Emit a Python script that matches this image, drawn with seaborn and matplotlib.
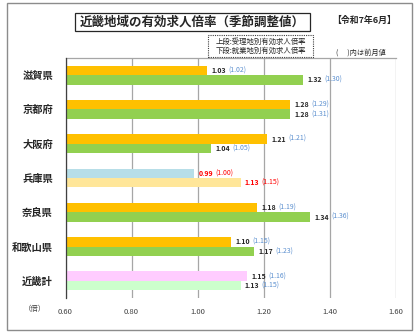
import matplotlib
matplotlib.use("Agg")
import matplotlib.pyplot as plt
from matplotlib.patches import Rectangle
from matplotlib.ticker import FixedLocator
import seaborn as sns
import pandas as pd
import numpy as np

# ---- data ----
prefs = ['滋賀県', '京都府', '大阪府', '兵庫県', '奈良県', '和歌山県', '近畿計']
upper = [1.03, 1.28, 1.21, 0.99, 1.18, 1.10, 1.15]        # 受理地別
upper_prev = [1.02, 1.29, 1.21, 1.00, 1.19, 1.15, 1.16]
lower = [1.32, 1.28, 1.04, 1.13, 1.34, 1.17, 1.13]        # 就業地別
lower_prev = [1.30, 1.31, 1.05, 1.15, 1.36, 1.23, 1.15]
series = ['受理地別', '就業地別']
xticks = [0.60, 0.80, 1.00, 1.20, 1.40, 1.60]

upper_colors = ['#FFC000', '#FFC000', '#FFC000', '#B7DEE8', '#FFC000', '#FFC000', '#FFCCFF']
lower_colors = ['#92D050', '#92D050', '#92D050', '#FFE699', '#92D050', '#92D050', '#CCFFCC']
text_colors = ['#262626', '#262626', '#262626', '#FF0000', '#262626', '#262626', '#262626']
prev_colors = ['#5B8FCF', '#5B8FCF', '#5B8FCF', '#FF0000', '#5B8FCF', '#5B8FCF', '#5B8FCF']

df = pd.DataFrame({
    'pref': prefs * 2,
    'value': upper + lower,
    'series': [series[0]] * len(prefs) + [series[1]] * len(prefs),
})

sns.set_style('white')
plt.rcParams['font.family'] = ['Noto Sans CJK JP', 'DejaVu Sans']

W, H = 420, 335
fig = plt.figure(figsize=(W / 100, H / 100), dpi=100)
ax = fig.add_axes([65.5 / W, 1 - 298 / H, (395.7 - 65.5) / W, (298 - 58) / H])

sns.barplot(data=df, x='value', y='pref', hue='series', orient='h', width=0.55,
            saturation=1, legend=False, ax=ax, linewidth=0, zorder=3)

# recolor bars per category
for cont, cols in zip(ax.containers, [upper_colors, lower_colors]):
    for patch, c in zip(cont.patches, cols):
        patch.set_facecolor(c)
        patch.set_edgecolor('none')

ax.set_xlim(xticks[0], xticks[-1])
ax.set_xticks(xticks)
ax.set_xticklabels([f'{t:.2f}' for t in xticks], fontsize=5.5, color='#404040')
ax.set_xlabel('')
ax.set_ylabel('')
ax.tick_params(axis='x', length=0, pad=7)
ax.tick_params(axis='y', which='major', length=0, pad=9)
for lab in ax.get_yticklabels():
    lab.set_fontsize(7.4)
    lab.set_fontweight('bold')
    lab.set_color('#262626')
ax.yaxis.set_minor_locator(FixedLocator(np.arange(-0.5, len(prefs), 1.0)))
ax.tick_params(axis='y', which='minor', length=3, width=0.8, color='#404040', direction='out')

ax.grid(axis='x', color='#A6A6A6', linewidth=0.9, zorder=0)
ax.grid(axis='y', visible=False)
ax.set_axisbelow(True)
for side in ['right', 'bottom']:
    ax.spines[side].set_visible(False)
ax.spines['top'].set_color('#A6A6A6')
ax.spines['top'].set_linewidth(0.9)
ax.spines['left'].set_color('#404040')
ax.spines['left'].set_linewidth(0.9)
ax.spines['left'].set_zorder(5)

# value labels: current value, then previous month in parentheses right after it
fig.canvas.draw()
renderer = fig.canvas.get_renderer()
for cont, vals, prevs in zip(ax.containers, [upper, lower], [upper_prev, lower_prev]):
    for i, (patch, v, p) in enumerate(zip(cont.patches, vals, prevs)):
        yc = patch.get_y() + patch.get_height() / 2
        t = ax.annotate(f'{v:.2f}', xy=(v, yc), xytext=(3.2, 0), textcoords='offset points',
                        va='center', ha='left', fontsize=5, fontweight='bold',
                        color=text_colors[i], zorder=6)
        wpx = t.get_window_extent(renderer).width
        ax.annotate(f'({p:.2f})', xy=(v, yc), xytext=(3.2 + wpx * 0.72 + 1.6, 0),
                    textcoords='offset points', va='center', ha='left', fontsize=5,
                    color=prev_colors[i], zorder=6)

# unit label
fig.text(35 / W, 1 - 309 / H, '（倍）', fontsize=5.3, color='#404040', ha='center', va='center')

# outer border
fig.patches.append(Rectangle((7 / W, 1 - 330 / H), (412 - 7) / W, (330 - 3) / H,
                             transform=fig.transFigure, fill=False,
                             edgecolor='#8C8C8C', linewidth=1.0))

# title box
fig.patches.append(Rectangle((75 / W, 1 - 31 / H), (310 - 75) / W, (31 - 13) / H,
                             transform=fig.transFigure, fill=False,
                             edgecolor='#262626', linewidth=0.9))
fig.text(192.5 / W, 1 - 22.5 / H, '近畿地域の有効求人倍率（季節調整値）',
         fontsize=9, fontweight='bold', color='#262626', ha='center', va='center')
fig.text(364 / W, 1 - 20.5 / H, '【令和7年6月】', fontsize=6.4, fontweight='bold',
         color='#262626', ha='center', va='center')

# legend note box (dotted)
fig.patches.append(Rectangle((208 / W, 1 - 57 / H), (313 - 208) / W, (57 - 35) / H,
                             transform=fig.transFigure, fill=False,
                             edgecolor='#404040', linewidth=0.8, linestyle=(0, (1, 1))))
fig.text(260.5 / W, 1 - 41.5 / H, '上段:受理地別有効求人倍率', fontsize=5.3,
         color='#262626', ha='center', va='center')
fig.text(260.5 / W, 1 - 51 / H, '下段:就業地別有効求人倍率', fontsize=5.3,
         color='#262626', ha='center', va='center')
fig.text(361 / W, 1 - 53 / H, '(　 )内は前月値', fontsize=5.2, color='#262626',
         ha='center', va='center')

fig.savefig('out.png', dpi=100)
